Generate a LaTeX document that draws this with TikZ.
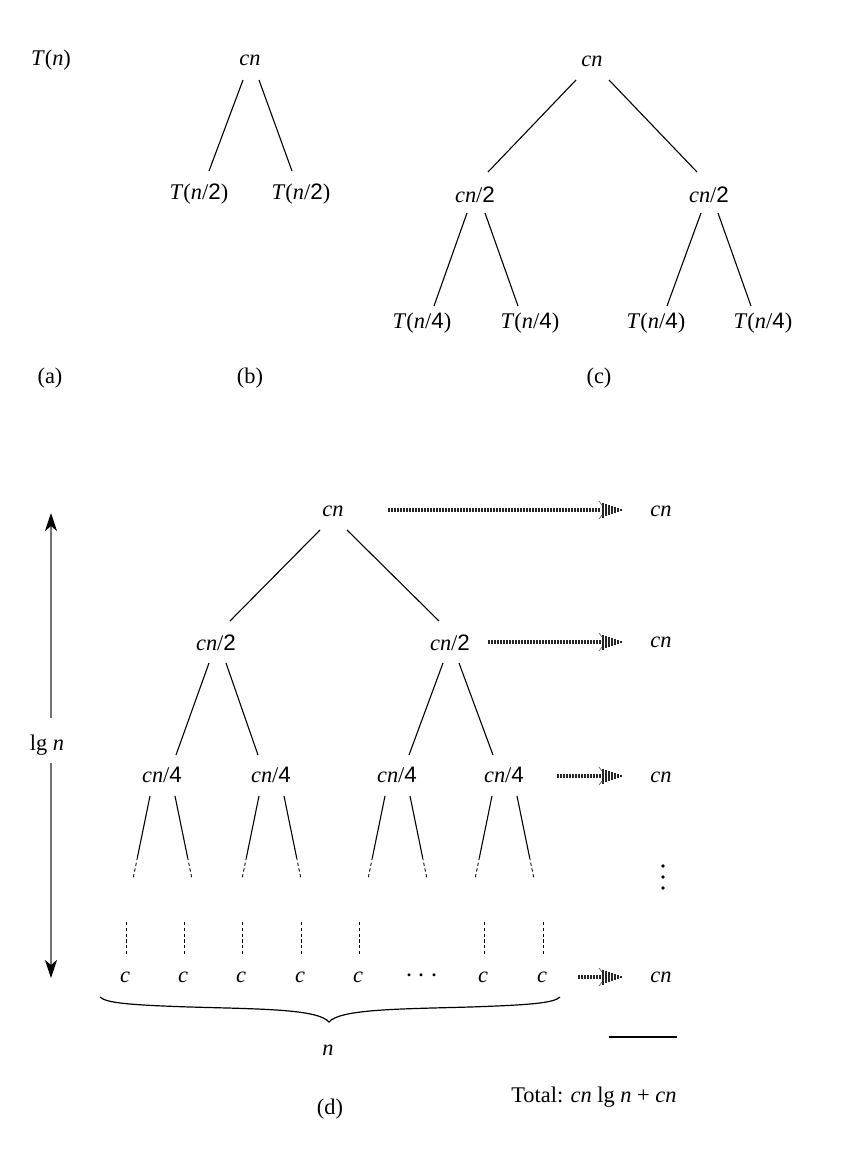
\documentclass[tikz,border=0pt]{standalone}
\usepackage{fontspec}
\setmainfont{Liberation Serif}
\newfontfamily\digfont{Liberation Sans}
\usetikzlibrary{arrows.meta,calc}
\newcommand\mi[1]{\textit{#1}}
\newcommand\dg[1]{{\digfont #1}}
\newcommand\flowhead[1]{%
  \foreach \k in {0,...,6}{%
    \draw[line width=1pt,black!85] ($(#1)+({-22+3*\k},{-7.5*(1-\k/7)})$) -- ($(#1)+({-22+3*\k},{7.5*(1-\k/7)})$);}%
  \draw[line width=0.35pt,black!60] ($(#1)+(-26,-9)$) -- ($(#1)+(-23,-5)$);
  \draw[line width=0.35pt,black!60] ($(#1)+(-26,9)$) -- ($(#1)+(-23,5)$);
}
\begin{document}
\begin{tikzpicture}[x=0.5pt,y=-0.5pt,
  font=\fontsize{11.2}{13}\selectfont,
  lbl/.style={anchor=base,inner sep=0pt},
  edge/.style={line width=0.55pt},
  dline/.style={line width=0.45pt,dash pattern=on 1.6pt off 1.3pt},
  flow/.style={line width=1.6pt,dash pattern=on 1pt off 0.5pt,black!85},
  varrow/.style={line width=0.6pt,black!55,-{Stealth[black,length=9pt,width=6pt,inset=2.5pt]}}]
\fill[white] (0,0) rectangle (844,1158);
\useasboundingbox (0,0) rectangle (844,1158);

% (a)
\node[lbl] (a0) at (51,65) {\mi{T}(\mi{n})};
\node[lbl] (la) at (50,383) {(a)};

% (b)
\node[lbl] (b0) at (250,65) {\mi{cn}};
\node[lbl] (b1) at (199,199) {\mi{T}(\mi{n}/\dg{2})};
\node[lbl] (b2) at (301,199) {\mi{T}(\mi{n}/\dg{2})};
\draw[edge] ($(b0.base)+(-7,15)$) -- ($(b1.base)+(10,-28)$);
\draw[edge] ($(b0.base)+(9,15)$) -- ($(b2.base)+(-9,-28)$);
\node[lbl] (lb) at (250,383) {(b)};

% (c)
\node[lbl] (c0) at (592,66) {\mi{cn}};
\node[lbl] (c1) at (475,202) {\mi{cn}/\dg{2}};
\node[lbl] (c2) at (709,202) {\mi{cn}/\dg{2}};
\node[lbl] (c3) at (422,328) {\mi{T}(\mi{n}/\dg{4})};
\node[lbl] (c4) at (530,328) {\mi{T}(\mi{n}/\dg{4})};
\node[lbl] (c5) at (656,328) {\mi{T}(\mi{n}/\dg{4})};
\node[lbl] (c6) at (763,328) {\mi{T}(\mi{n}/\dg{4})};
\draw[edge] ($(c0.base)+(-16,14)$) -- ($(c1.base)+(13,-30)$);
\draw[edge] ($(c0.base)+(17,14)$) -- ($(c2.base)+(-12,-30)$);
\draw[edge] ($(c1.base)+(-8,11)$) -- ($(c3.base)+(12,-22)$);
\draw[edge] ($(c1.base)+(10,11)$) -- ($(c4.base)+(-12,-22)$);
\draw[edge] ($(c2.base)+(-8,11)$) -- ($(c5.base)+(11,-22)$);
\draw[edge] ($(c2.base)+(9,11)$) -- ($(c6.base)+(-12,-22)$);
\node[lbl] (lc) at (599,383) {(c)};

% (d) tree
\node[lbl] (d0) at (333,516) {\mi{cn}};
\node[lbl] (d1) at (216,650) {\mi{cn}/\dg{2}};
\node[lbl] (d2) at (450,650) {\mi{cn}/\dg{2}};
\node[lbl] (q1) at (162,782) {\mi{cn}/\dg{4}};
\node[lbl] (q2) at (271,782) {\mi{cn}/\dg{4}};
\node[lbl] (q3) at (397,782) {\mi{cn}/\dg{4}};
\node[lbl] (q4) at (504,782) {\mi{cn}/\dg{4}};
\draw[edge] ($(d0.base)+(-13,14)$) -- ($(d1.base)+(14,-29)$);
\draw[edge] ($(d0.base)+(14,14)$) -- ($(d2.base)+(-11,-29)$);
\draw[edge] ($(d1.base)+(-7,13)$) -- ($(q1.base)+(14,-27)$);
\draw[edge] ($(d1.base)+(10,13)$) -- ($(q2.base)+(-13,-27)$);
\draw[edge] ($(d2.base)+(-7,13)$) -- ($(q3.base)+(12,-27)$);
\draw[edge] ($(d2.base)+(9,13)$) -- ($(q4.base)+(-11,-27)$);
\foreach \q in {q1,q2,q3,q4}{
  \draw[edge] ($(\q.base)+(-12,14)$) -- ($(\q.base)+(-24.5,75)$);
  \draw[dline] ($(\q.base)+(-24.5,75)$) -- ($(\q.base)+(-29,97)$);
  \draw[edge] ($(\q.base)+(13,14)$) -- ($(\q.base)+(25.5,75)$);
  \draw[dline] ($(\q.base)+(25.5,75)$) -- ($(\q.base)+(30,97)$);
}

% leaves
\node[lbl] (l1) at (125,982) {\mi{c}};
\node[lbl] (l2) at (183,982) {\mi{c}};
\node[lbl] (l3) at (241,982) {\mi{c}};
\node[lbl] (l4) at (300,982) {\mi{c}};
\node[lbl] (l5) at (358,982) {\mi{c}};
\node[lbl] (ldots) at (422,982) {{\fontsize{15}{15}\selectfont$\cdots$}};
\node[lbl] (l6) at (483,982) {\mi{c}};
\node[lbl] (l7) at (542,982) {\mi{c}};
\foreach \l in {l1,l2,l3,l4,l5,l6,l7}{
  \draw[dline] ($(\l.base)+(1,-60)$) -- ($(\l.base)+(1,-27)$);
}

% brace
\draw[line width=0.6pt] (100,997) .. controls (106,1003) and (130,1005) .. (190,1007)
  .. controls (260,1009) and (318,1009) .. (329,1022)
  .. controls (340,1009) and (400,1009) .. (470,1007)
  .. controls (530,1005) and (554,1003) .. (560,997);
\node[lbl] (nn) at (328,1055) {\mi{n}};

% right column
\node[lbl] (r0) at (661,516) {\mi{cn}};
\node[lbl] (r1) at (661,647) {\mi{cn}};
\node[lbl] (r2) at (661,782) {\mi{cn}};
\node[lbl] (r4) at (661,982) {\mi{cn}};
\foreach \yy in {866,877,888}{\fill (663,\yy) circle (1.9);}

% flow arrows
\coordinate (f0s) at (388,510); \coordinate (f0e) at (625,510);
\coordinate (f1s) at (488,642); \coordinate (f1e) at (625,642);
\coordinate (f2s) at (557,776); \coordinate (f2e) at (625,776);
\coordinate (f4s) at (578,977); \coordinate (f4e) at (625,977);
\foreach \f in {f0,f1,f2,f4}{
  \draw[flow] (\f s) -- ($(\f e)+(-24,0)$);
  \flowhead{\f e}
}

% height arrow
\node[lbl] (lgn) at (47,750) {lg \mi{n}};
\coordinate (atop) at (51,513);
\coordinate (abot) at (51,978);
\draw[varrow,shorten <=8pt] (lgn.north -| atop) -- (atop);
\draw[varrow,shorten <=4pt] (lgn.south -| abot) -- (abot);

% total
\draw[line width=0.6pt] (609,1037) -- (677,1037);
\node[lbl,anchor=base east] (tot) at (677,1102) {Total: \mi{cn} lg \mi{n} + \mi{cn}};
\node[lbl] (ld) at (330,1114) {(d)};
\end{tikzpicture}
\end{document}
